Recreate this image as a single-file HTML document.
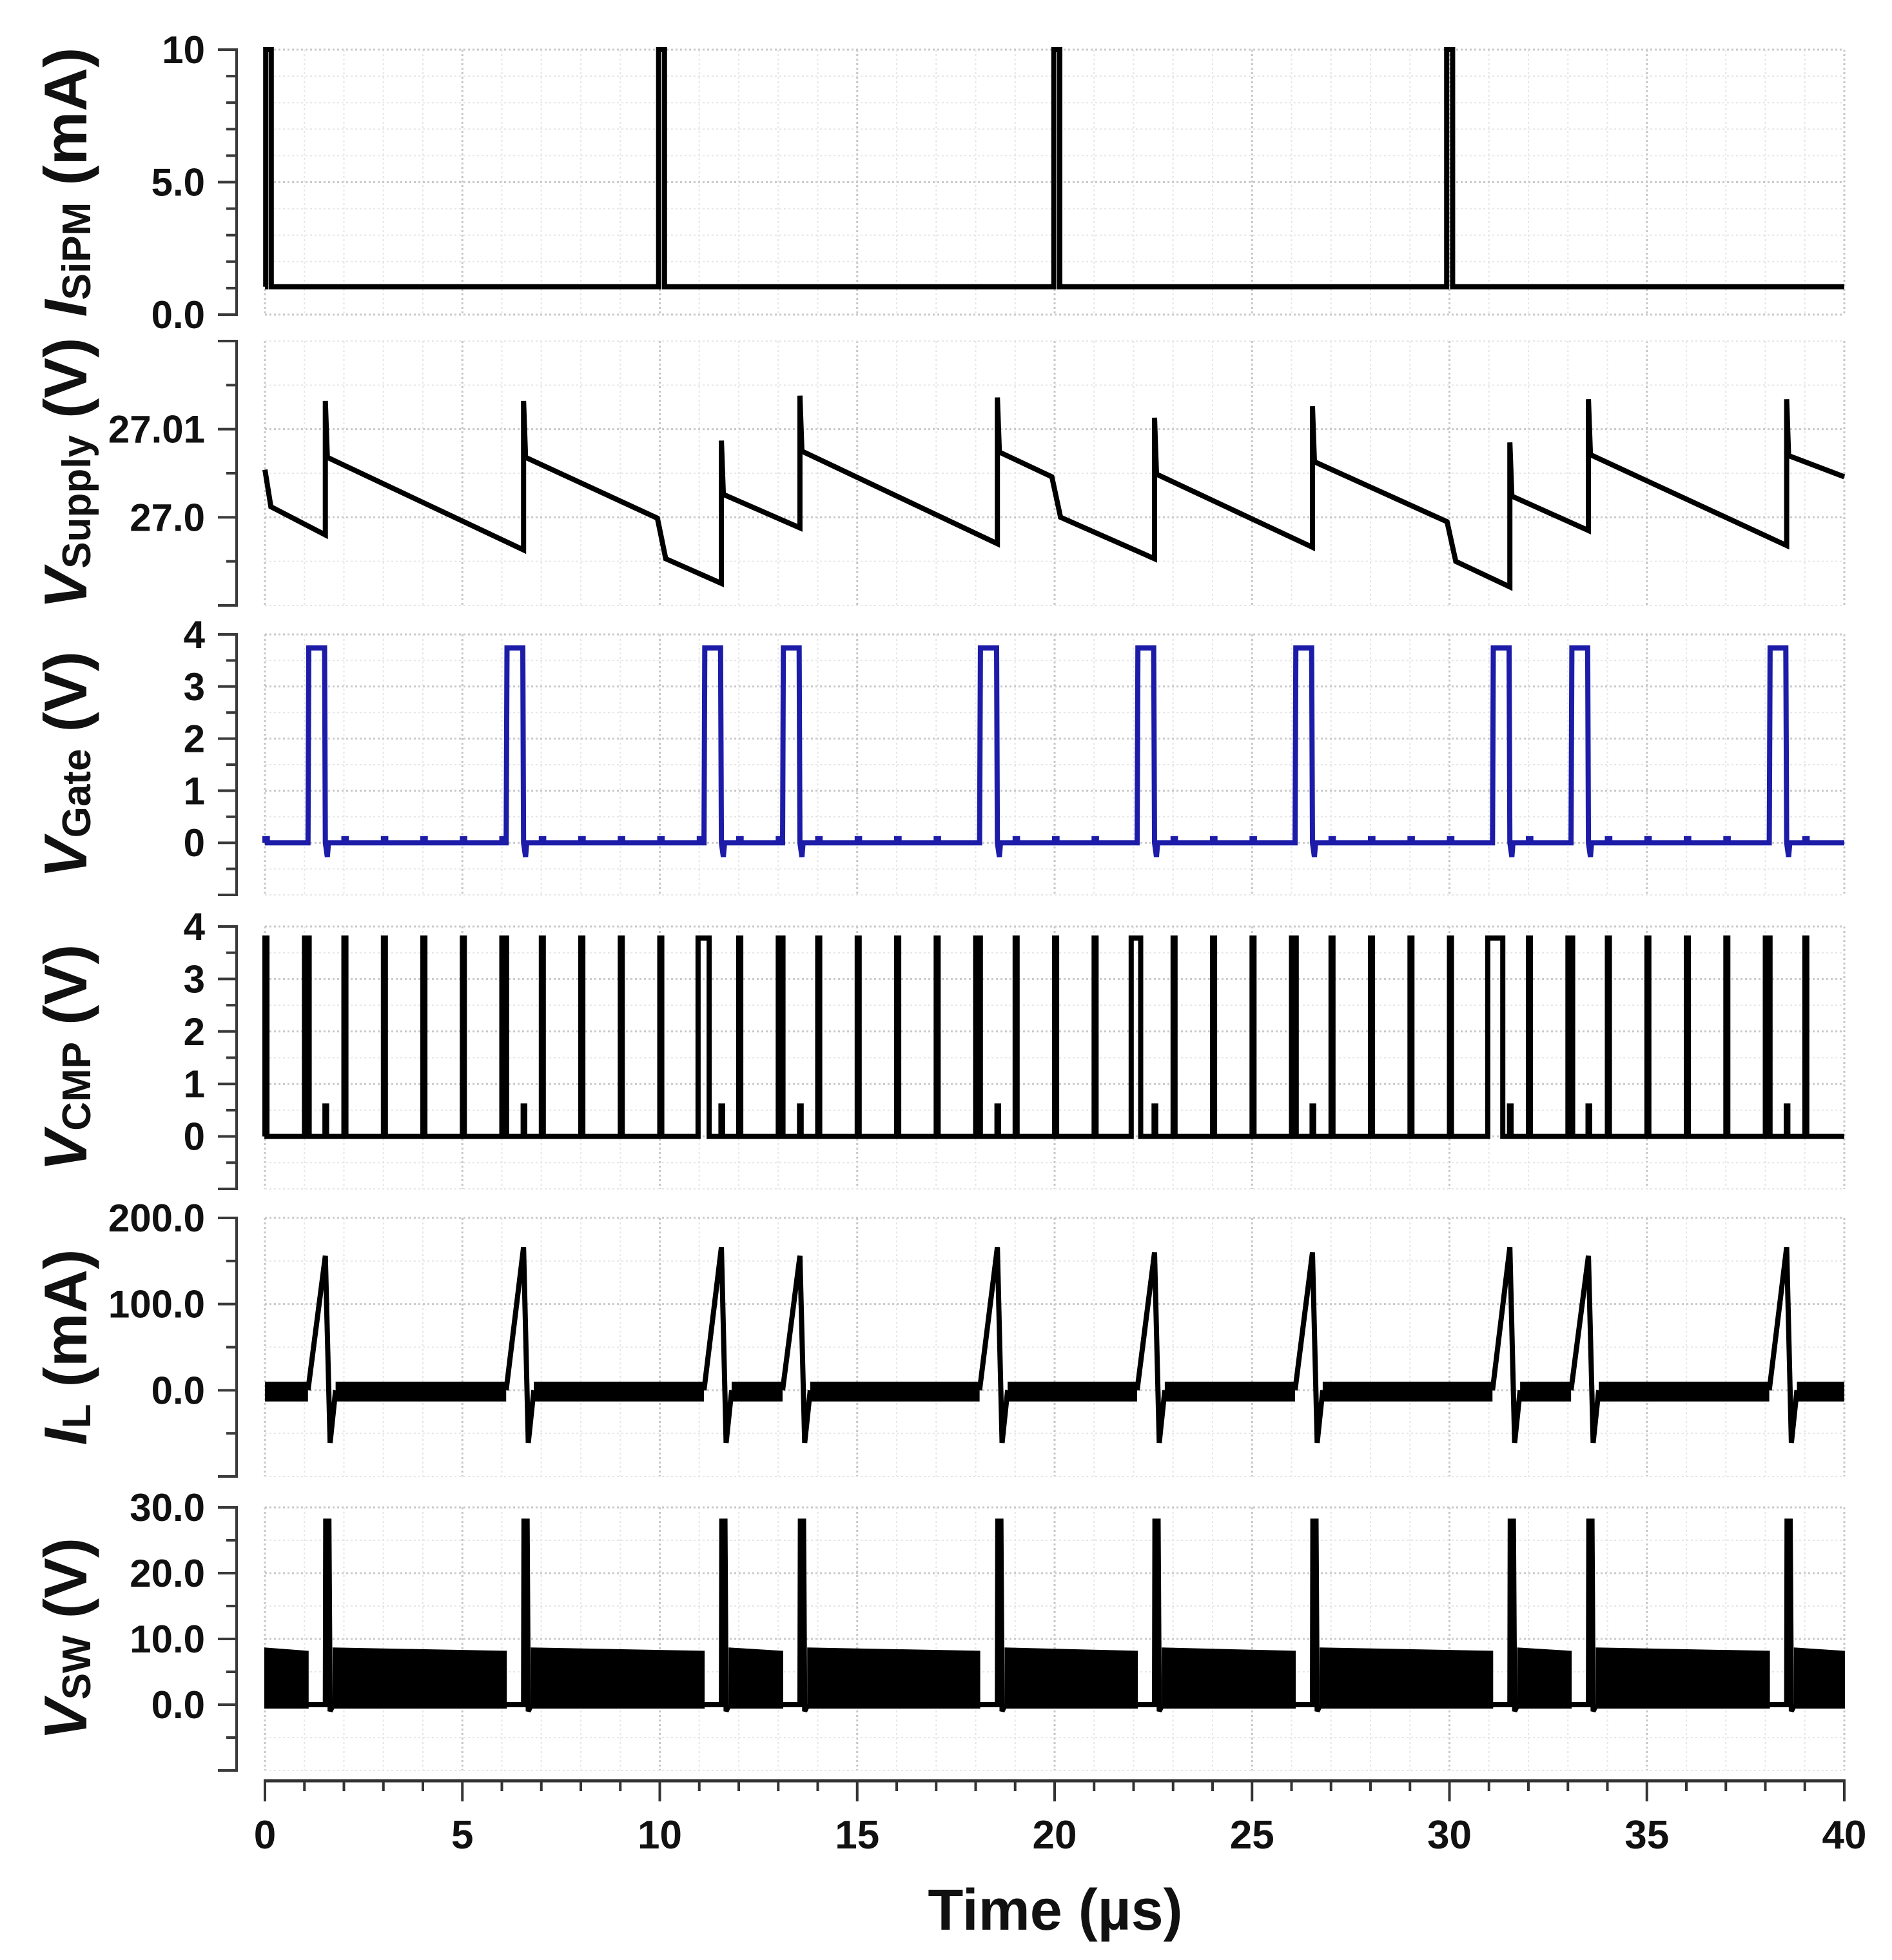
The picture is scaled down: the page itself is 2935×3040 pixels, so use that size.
<!DOCTYPE html>
<html><head><meta charset="utf-8"><style>
html,body{margin:0;padding:0;background:#fff;}
svg{display:block;}
text{font-family:"Liberation Sans",sans-serif;font-weight:bold;fill:#111;}
</style></head><body>
<svg id="chart" xmlns="http://www.w3.org/2000/svg" width="2935" height="3040" viewBox="0 0 2935 3040">
<rect x="0" y="0" width="2935" height="3040" fill="#fff"/>
<g id="grid"></g>
<g id="axes"></g>
<g id="series"></g>
<text x="1637" y="2993" text-anchor="middle" font-size="90">Time (µs)</text>
</svg>
<script>
// ---- data ----
const timeTicks = [0,5,10,15,20,25,30,35,40];
const sipmStart = [0.02, 9.97, 19.98, 29.93];
const sipmEnd = [0.16, 10.12, 20.13, 30.08];
const sipmBase = [1.05];
const sipmPeak = [10];
const gateStart = [1.09,6.11,11.12,13.11,18.10,22.09,26.09,31.09,33.08,38.10];
const gateEnd = [1.53,6.55,11.56,13.55,18.55,22.53,26.53,31.53,33.52,38.54];
const gateHigh = [3.74];
const supplyT = [0,0.15,1.53,1.53,1.58,6.55,6.55,6.60,9.94,10.15,11.56,11.56,11.61,13.55,13.55,13.60,18.55,18.55,18.60,19.93,20.15,22.53,22.53,22.58,26.53,26.53,26.58,29.94,30.16,31.53,31.53,31.58,33.52,33.52,33.57,38.54,38.54,38.59,40];
const supplyV = [27.0054,27.0012,26.998,27.0132,27.0068,26.9963,27.0132,27.0068,26.9999,26.9953,26.9925,27.0087,27.0026,26.9988,27.0138,27.0075,26.997,27.0136,27.0074,27.0046,27.0,26.9953,27.0113,27.0049,26.9966,27.0126,27.0063,26.9995,26.995,26.9921,27.0085,27.0024,26.9985,27.0134,27.0071,26.9968,27.0134,27.007,27.0046];
const cmpClock = [0,1,2,3,4,5,6,7,8,9,10,12,13,14,15,16,17,18,19,20,21,23,24,25,26,27,28,29,30,32,33,34,35,36,37,38,39];
const cmpExtra = [1.08,6.08,13.08,18.08,26.08,33.08,38.08];
const cmpWideStart = [10.97,21.94,30.97];
const cmpWideEnd = [11.25,22.18,31.35];
const cmpHigh = [3.78];
const cmpSmallHigh = [0.58];
const ilPeak = [156,166,166,156,166,160,160,166,156,166];
const ilMin = [-61];
const ilBand = [10,-13];
const swPeak = [27.9,27.9,27.9,27.9,27.9,27.9,27.9,27.9,27.9,27.9];
const swBandTop = [8.6,8.1];
const swBandBottom = [-0.5];
const p1Ticks = [0,5,10]; const p1Labels = ["0.0","5.0","10"];
const p2Ticks = [27.0,27.01]; const p2Labels = ["27.0","27.01"];
const p3Ticks = [0,1,2,3,4]; const p3Labels = ["0","1","2","3","4"];
const p4Ticks = [0,1,2,3,4]; const p4Labels = ["0","1","2","3","4"];
const p5Ticks = [0,100,200]; const p5Labels = ["0.0","100.0","200.0"];
const p6Ticks = [0,10,20,30]; const p6Labels = ["0.0","10.0","20.0","30.0"];

// ---- layout ----
const NS = "http://www.w3.org/2000/svg";
const X0 = 411, X1 = 2861, AXX = 367, SW = 8;
function X(t){ return X0 + (t/40)*(X1-X0); }
const panels = [
 {id:"isipm", top:77, bot:488, vmin:0, vmax:10, minor:1, ticks:p1Ticks, labels:p1Labels, main:"I", sub:"SiPM", unit:" (mA)"},
 {id:"vsupply", top:529, bot:939, vmin:26.99, vmax:27.02, minor:0.005, ticks:p2Ticks, labels:p2Labels, main:"V", sub:"Supply", unit:" (V)"},
 {id:"vgate", top:984, bot:1388, vmin:-1, vmax:4, minor:0.5, ticks:p3Ticks, labels:p3Labels, main:"V", sub:"Gate", unit:" (V)"},
 {id:"vcmp", top:1437, bot:1844, vmin:-1, vmax:4, minor:0.5, ticks:p4Ticks, labels:p4Labels, main:"V", sub:"CMP", unit:" (V)"},
 {id:"il", top:1889, bot:2290, vmin:-100, vmax:200, minor:50, ticks:p5Ticks, labels:p5Labels, main:"I", sub:"L", unit:" (mA)"},
 {id:"vsw", top:2338, bot:2746, vmin:-10, vmax:30, minor:5, ticks:p6Ticks, labels:p6Labels, main:"V", sub:"SW", unit:" (V)"}
];
function mkY(p){ return v => p.bot - (v-p.vmin)/(p.vmax-p.vmin)*(p.bot-p.top); }
function el(tag, attrs, parent){ const e=document.createElementNS(NS,tag); for(const k in attrs) e.setAttribute(k,attrs[k]); parent.appendChild(e); return e; }
const gGrid=document.getElementById('grid'), gAx=document.getElementById('axes'), gS=document.getElementById('series');

panels.forEach(p=>{
  const Y=mkY(p);
  for(let t=0;t<=40;t++){
    const major = t%5===0;
    const l=el('line',{x1:X(t),x2:X(t),y1:p.top,y2:p.bot,stroke:major?'#c6c6c6':'#e6e6e6','stroke-width':major?3:2,'stroke-dasharray':'3,4'},gGrid);
    
    
  }
  const n = Math.round((p.vmax-p.vmin)/p.minor);
  for(let i=0;i<=n;i++){
    const v = p.vmin + i*p.minor;
    const y = Y(v);
    const isMajor = p.ticks.some(tv=>Math.abs(tv-v)<p.minor*0.01);
    const g=el('line',{x1:X0,x2:X1,y1:y,y2:y,stroke:isMajor?'#cacaca':'#e6e6e6','stroke-width':isMajor?3:2,'stroke-dasharray':'3,4'},gGrid);
    
    
    const edge = (i===0||i===n);
    const tk=el('line',{x1:(isMajor||edge)?338:351,x2:AXX,y1:y,y2:y,stroke:'#3a3a3a','stroke-width':4},gAx);
    
    
  }
  const ax=el('line',{x1:AXX,x2:AXX,y1:p.top-2,y2:p.bot+2,stroke:'#3a3a3a','stroke-width':4},gAx);
  
  
  p.ticks.forEach((tv,i)=>{
    const t=el('text',{x:318,y:Y(tv)+21,'text-anchor':'end','font-size':60},gAx);
    t.textContent=p.labels[i];
    
    
  });
  const cy=(p.top+p.bot)/2;
  const tt=el('text',{x:134,y:cy,'text-anchor':'middle','font-size':94,transform:`rotate(-90 134 ${cy})`},gAx);
  
  
  const s1=el('tspan',{'font-style':'italic'},tt); s1.textContent=p.main;
  const s2=el('tspan',{'font-size':62,dy:6},tt); s2.textContent=p.sub;
  const s3=el('tspan',{dy:-6},tt); s3.textContent=p.unit;
  p.Y=Y;
});

const xa=el('line',{x1:X0-2,x2:X1+2,y1:2762,y2:2762,stroke:'#333','stroke-width':5},gAx);


for(let t=0;t<=40;t++){
  const major=t%5===0;
  const tk=el('line',{x1:X(t),x2:X(t),y1:2762,y2:major?2794:2778,stroke:'#333','stroke-width':4},gAx);
  
  
}
timeTicks.forEach(t=>{
  const tl=el('text',{x:X(t),y:2867,'text-anchor':'middle','font-size':62},gAx);
  tl.textContent=String(t);
  
  
});

function path(d, color, name, fill){
  const e=el('path',{d:d,fill:fill||'none',stroke:color,'stroke-width':SW,'stroke-linejoin':'miter','stroke-miterlimit':3},gS);
  
  
  return e;
}
function pt(t,y){ return X(t).toFixed(1)+' '+y.toFixed(1); }

(function(){
  const Y=panels[0].Y; let d='M'+pt(0,Y(sipmBase[0]));
  sipmStart.forEach((s,i)=>{ d+=' L'+pt(s,Y(sipmBase[0]))+' L'+pt(s,Y(sipmPeak[0]))+' L'+pt(sipmEnd[i],Y(sipmPeak[0]))+' L'+pt(sipmEnd[i],Y(sipmBase[0])); });
  d+=' L'+pt(40,Y(sipmBase[0]));
  path(d,'#000','isipm-line');
})();
(function(){
  const Y=panels[1].Y; let d='';
  supplyT.forEach((t,i)=>{ d+=(i?' L':'M')+pt(t,Y(supplyV[i])); });
  path(d,'#000','vsupply-line');
})();
(function(){
  const Y=panels[2].Y; const ev=[];
  gateStart.forEach((s,i)=>ev.push({s:s,e:gateEnd[i],type:'pulse'}));
  for(let k=0;k<40;k++){ const inP=gateStart.some((s,i)=>k>=s-0.1&&k<=gateEnd[i]+0.3); if(!inP) ev.push({s:k,e:k+0.06,type:'bump'}); }
  ev.sort((a,b)=>a.s-b.s);
  let d='M'+pt(0,Y(0));
  ev.forEach(o=>{
    if(o.type==='pulse'){
      d+=' L'+pt(o.s,Y(0))+' L'+pt(o.s+0.02,Y(gateHigh[0]))+' L'+pt(o.e-0.02,Y(gateHigh[0]))+' L'+pt(o.e,Y(0))+' L'+pt(o.e+0.05,Y(-0.27))+' L'+pt(o.e+0.08,Y(0));
    } else {
      d+=' L'+pt(o.s,Y(0))+' L'+pt(o.s,Y(0.08))+' L'+pt(o.e,Y(0.08))+' L'+pt(o.e,Y(0));
    }
  });
  d+=' L'+pt(40,Y(0));
  path(d,'#1c1ca8','vgate-line');
})();
(function(){
  const Y=panels[3].Y; const ev=[];
  cmpClock.forEach(t=>ev.push({s:t,e:t+0.05,h:cmpHigh[0]}));
  cmpExtra.forEach(t=>ev.push({s:t,e:t+0.04,h:cmpHigh[0]}));
  cmpWideStart.forEach((s,i)=>ev.push({s:s,e:cmpWideEnd[i],h:cmpHigh[0]}));
  gateEnd.forEach(t=>ev.push({s:t-0.01,e:t+0.03,h:cmpSmallHigh[0]}));
  ev.sort((a,b)=>a.s-b.s);
  let d='M'+pt(0,Y(0));
  ev.forEach(o=>{ d+=' L'+pt(o.s,Y(0))+' L'+pt(o.s,Y(o.h))+' L'+pt(o.e,Y(o.h))+' L'+pt(o.e,Y(0)); });
  d+=' L'+pt(40,Y(0));
  path(d,'#000','vcmp-line');
})();
(function(){
  const Y=panels[4].Y;
  const segS=[0].concat(gateEnd.map(t=>t+0.26));
  const segE=gateStart.concat([40]);
  segS.forEach((s,i)=>{
    const e=segE[i];
    const r=el('rect',{x:X(s),y:Y(ilBand[0]),width:X(e)-X(s),height:Y(ilBand[1])-Y(ilBand[0]),fill:'#000'},gS);
    
    
  });
  gateStart.forEach((s,i)=>{
    const e=gateEnd[i];
    const d='M'+pt(s,Y(0))+' L'+pt(e,Y(ilPeak[i]))+' L'+pt(e+0.12,Y(ilMin[0]))+' L'+pt(e+0.26,Y(0));
    path(d,'#000','il-pulse');
  });
})();
(function(){
  const Y=panels[5].Y;
  const segS=[0].concat(gateEnd.map(t=>t+0.2));
  const segE=gateStart.concat([40]);
  segS.forEach((s,i)=>{
    const e=segE[i];
    const d='M'+pt(s,Y(swBandBottom[0]))+' L'+pt(s,Y(swBandTop[0]))+' L'+pt(e,Y(swBandTop[1]))+' L'+pt(e,Y(swBandBottom[0]))+' Z';
    const b=el('path',{d:d,fill:'#000',stroke:'#000','stroke-width':2},gS);
    
    
  });
  gateStart.forEach((s,i)=>{
    const e=gateEnd[i];
    const d='M'+pt(s,Y(0))+' L'+pt(e,Y(0))+' L'+pt(e+0.01,Y(swPeak[i]))+' L'+pt(e+0.09,Y(swPeak[i]))+' L'+pt(e+0.12,Y(-1))+' L'+pt(e+0.2,Y(0));
    path(d,'#000','vsw-spike');
  });
})();
</script>
</body></html>
